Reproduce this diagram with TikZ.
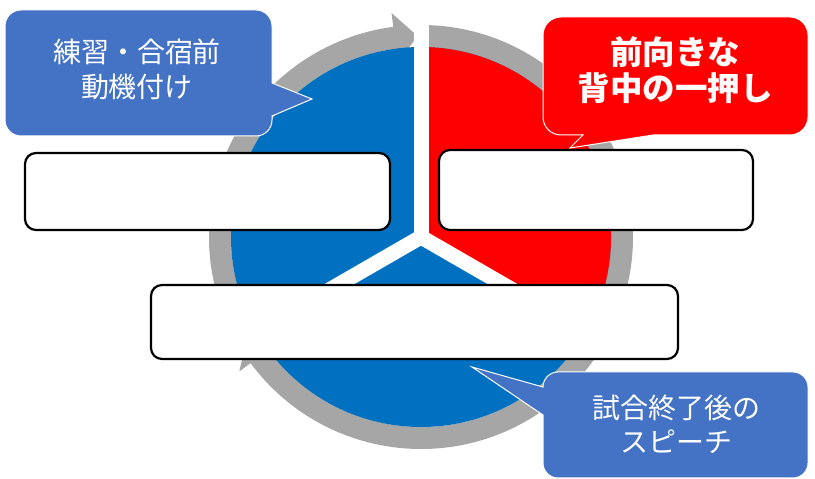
\documentclass[tikz,border=0pt]{standalone}
\usepackage{fontspec}
\setmainfont{Noto Sans CJK JP}
\definecolor{pieblue}{HTML}{0070C0}
\definecolor{piered}{HTML}{FF0000}
\definecolor{ringgrey}{HTML}{A6A6A6}
\definecolor{callblue}{HTML}{4472C4}
\begin{document}
\begin{tikzpicture}[x=1pt,y=1pt,
  box/.style={draw=black, line width=2.2pt, fill=white, rounded corners=11pt, inner sep=0pt},
  callout/.style={draw=white, line width=1pt},
  calltext/.style={text=white, align=center, inner sep=0pt},
  gap/.style={draw=white, line width=15pt, line join=miter}
]
\useasboundingbox (0,0) rectangle (815,479);
\fill[white] (0,0) rectangle (815,479);
\begin{scope}[shift={(421,242)}]
  \coordinate (c) at (0,0);
  % grey ring arrows
  \fill[ringgrey] (205:212) arc[start angle=205, end angle=97.5, radius=212]
     -- (97.5:226) -- (91:201) -- (97.5:176) -- (97.5:190)
     arc[start angle=97.5, end angle=205, radius=190] -- cycle;
  \fill[ringgrey] (90:212) arc[start angle=90, end angle=-55, radius=212]
     -- (-55:190) arc[start angle=-55, end angle=90, radius=190] -- cycle;
  \fill[ringgrey] (-55:212) arc[start angle=-55, end angle=-143.5, radius=212]
     -- (-143.5:226) -- (-150:201) -- (-143.5:176) -- (-143.5:190)
     arc[start angle=-143.5, end angle=-55, radius=190] -- cycle;
  % pie
  \fill[pieblue] (c) circle[radius=190];
  \fill[piered] (c) -- (-30:190) arc[start angle=-30, end angle=90, radius=190] -- cycle;
  % gaps
  \draw[gap] (210:196) -- (c) -- (330:196);
  \draw[gap] (c) -- (90:234);
\end{scope}
% boxes
\node[box, minimum width=365pt, minimum height=77pt] (lbox) at (207.5,287.5) {};
\node[box, minimum width=314pt, minimum height=80pt] (rbox) at (596,289) {};
\node[box, minimum width=527pt, minimum height=74pt] (bbox) at (414.5,157) {};
% callout top-left
\filldraw[callout, fill=callblue] (21,469) -- (256,469) arc[start angle=90, end angle=0, radius=16]
  -- (272,396) -- (312,380) -- (272,363) -- (272,359) arc[start angle=0, end angle=-90, radius=16]
  -- (21,343) arc[start angle=270, end angle=180, radius=16]
  -- (5,453) arc[start angle=180, end angle=90, radius=16] -- cycle;
\node[calltext, font=\fontsize{28}{35}\selectfont] (tl) at (137,409.5) {練習・合宿前\\動機付け};
% callout top-right
\filldraw[callout, fill=piered] (561,462) -- (790,462) arc[start angle=90, end angle=0, radius=18]
  -- (808,362) arc[start angle=0, end angle=-90, radius=18]
  -- (653,344) -- (570,331) -- (583,344) -- (561,344) arc[start angle=270, end angle=180, radius=18]
  -- (543,444) arc[start angle=180, end angle=90, radius=18] -- cycle;
\node[calltext, font=\fontsize{32.5}{36}\selectfont\bfseries] (tr) at (675,409) {前向きな\\背中の一押し};
% callout bottom
\filldraw[callout, fill=callblue] (558,107) -- (793,107) arc[start angle=90, end angle=0, radius=15]
  -- (808,16) arc[start angle=0, end angle=-90, radius=15]
  -- (558,1) arc[start angle=270, end angle=180, radius=15]
  -- (543,64) -- (472,112) -- (543,92) arc[start angle=180, end angle=90, radius=15] -- cycle;
\node[calltext, font=\fontsize{28}{34}\selectfont] (bt) at (676,54.5) {試合終了後の\\スピーチ};
\end{tikzpicture}
\end{document}
